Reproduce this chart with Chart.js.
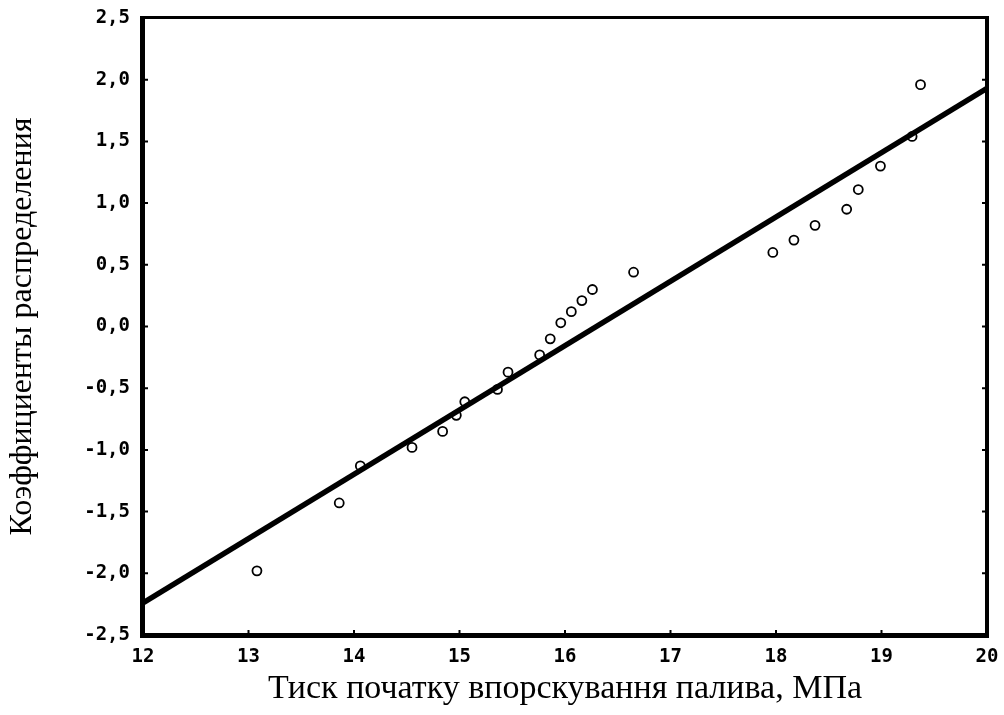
<!DOCTYPE html>
<html>
<head>
<meta charset="utf-8">
<script src="https://cdn.jsdelivr.net/npm/chart.js@4"></script>
<style>
  html, body { margin: 0; padding: 0; background: #fff; }
  #box { width: 1004px; height: 715px; position: relative; }
</style>
</head>
<body>
<div id="box"><canvas id="myChart"></canvas></div>
<script>
// тиск початку впорскування (МПа) і коефіцієнти розподілу
const pressure = [13.08, 13.86, 14.06, 14.55, 14.84, 14.97, 15.05, 15.36, 15.46, 15.76, 15.86, 15.96,
  16.06, 16.16, 16.26, 16.65, 17.97, 18.17, 18.37, 18.67, 18.78, 18.99, 19.29, 19.37];
const coeff = [-1.98, -1.43, -1.13, -0.98, -0.85, -0.72, -0.61, -0.51, -0.37, -0.23, -0.10, 0.03,
  0.12, 0.21, 0.30, 0.44, 0.60, 0.70, 0.82, 0.95, 1.11, 1.30, 1.54, 1.96];

// лінія регресії (кінці)
const fitX = [12, 20];
const fitY = [-2.24, 1.93];

const xTicks = [12, 13, 14, 15, 16, 17, 18, 19, 20];
const yTicks = [-2.5, -2.0, -1.5, -1.0, -0.5, 0.0, 0.5, 1.0, 1.5, 2.0, 2.5];

const tickFont = { family: 'DejaVu Sans Mono', size: 19, weight: 'bold' };

// рамка та короткі риски всередину
const framePlugin = {
  id: 'frame',
  afterDatasetsDraw(chart) {
    const { ctx, chartArea: a, scales } = chart;
    ctx.save();
    ctx.strokeStyle = '#000';
    ctx.fillStyle = '#000';
    // ліва і нижня товсті
    ctx.fillRect(a.left - 3, a.top - 1, 5, a.bottom - a.top + 4);
    ctx.fillRect(a.left - 3, a.bottom - 2, a.right - a.left + 5, 5);
    // верх і права
    ctx.fillRect(a.left - 3, a.top - 2, a.right - a.left + 5, 3);
    ctx.fillRect(a.right - 2, a.top - 2, 4, a.bottom - a.top + 4);
    // риски
    ctx.lineWidth = 2;
    ctx.beginPath();
    xTicks.forEach(v => {
      const px = scales.x.getPixelForValue(v);
      ctx.moveTo(px, a.bottom);
      ctx.lineTo(px, a.bottom - 5);
    });
    yTicks.forEach(v => {
      const py = scales.y.getPixelForValue(v);
      ctx.moveTo(a.left, py);
      ctx.lineTo(a.left + 5, py);
      ctx.moveTo(a.right, py);
      ctx.lineTo(a.right - 5, py);
    });
    ctx.stroke();
    ctx.restore();
  }
};

const ctx = document.getElementById('myChart');

new Chart(ctx, {
  type: 'scatter',
  data: {
    datasets: [
      {
        label: 'регресія',
        data: fitX.map((x, i) => ({ x: x, y: fitY[i] })),
        showLine: true,
        borderColor: '#000',
        borderWidth: 5.5,
        pointRadius: 0,
        order: 0
      },
      {
        label: 'дані',
        data: pressure.map((x, i) => ({ x: x, y: coeff[i] })),
        pointRadius: 4.5,
        pointBorderWidth: 1.8,
        borderColor: '#000',
        backgroundColor: 'rgba(0,0,0,0)',
        order: 1
      }
    ]
  },
  options: {
    responsive: true,
    maintainAspectRatio: false,
    animation: false,
    layout: { padding: { top: 18, right: 17, left: 0, bottom: 0 } },
    plugins: {
      legend: { display: false },
      tooltip: { enabled: false }
    },
    scales: {
      x: {
        type: 'linear',
        min: 12,
        max: 20,
        afterFit: s => { s.height = 80; s.paddingLeft = 0; s.paddingRight = 0; },
        afterBuildTicks: s => { s.ticks = xTicks.map(v => ({ value: v })); },
        grid: { display: false, drawTicks: false },
        border: { display: false },
        ticks: {
          font: tickFont,
          color: '#000',
          padding: 11,
          maxRotation: 0,
          callback: v => String(v)
        },
        title: {
          display: true,
          text: 'Тиск початку впорскування палива, МПа',
          font: { family: 'Liberation Serif', size: 34 },
          color: '#000',
          padding: { top: 0, bottom: 6 }
        }
      },
      y: {
        type: 'linear',
        min: -2.5,
        max: 2.5,
        afterFit: s => { s.width = 143; s.paddingTop = 0; s.paddingBottom = 0; },
        afterBuildTicks: s => { s.ticks = yTicks.map(v => ({ value: v })); },
        grid: { display: false, drawTicks: false },
        border: { display: false },
        ticks: {
          font: tickFont,
          color: '#000',
          padding: 13,
          callback: v => v.toFixed(1).replace('.', ',')
        },
        title: {
          display: true,
          text: 'Коэффициенты распределения',
          font: { family: 'Liberation Serif', size: 32 },
          color: '#000',
          padding: { top: 3, bottom: 0 }
        }
      }
    }
  },
  plugins: [framePlugin]
});
</script>
</body>
</html>
